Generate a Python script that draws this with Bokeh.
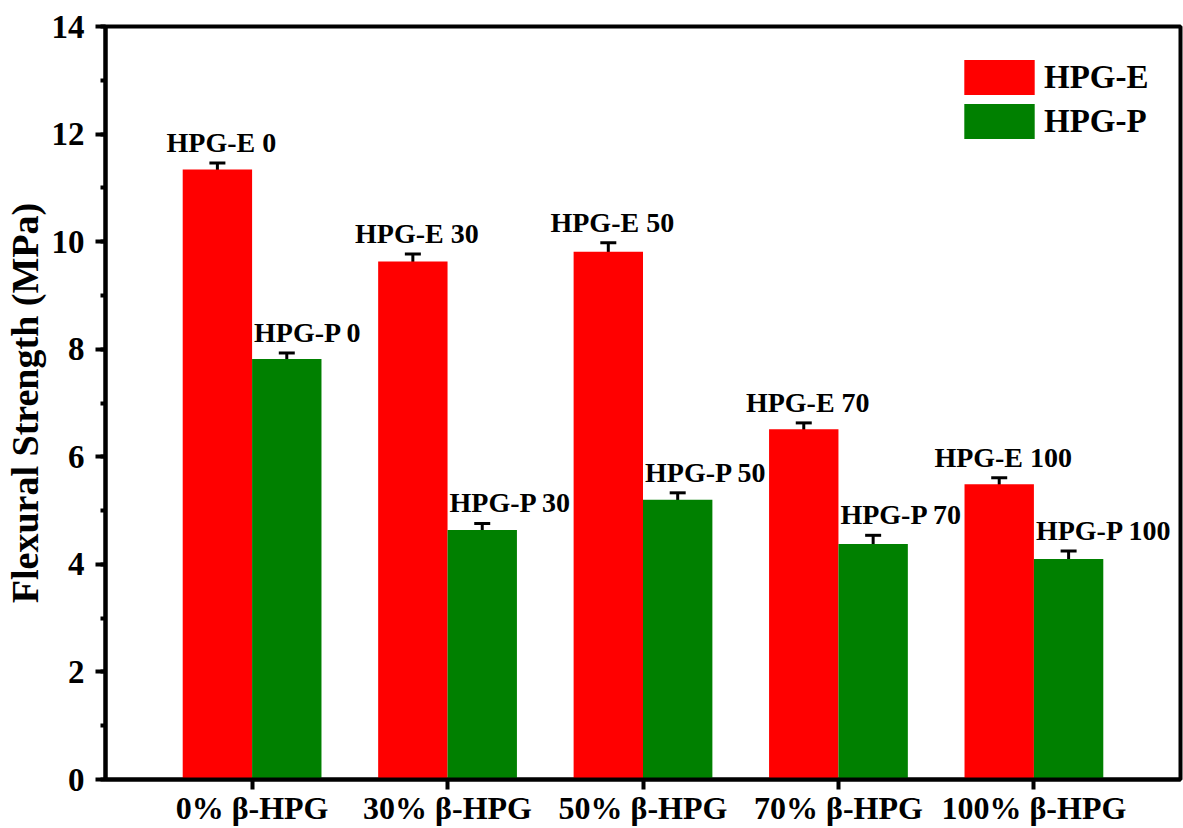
from bokeh.plotting import figure
from bokeh.models import (ColumnDataSource, Range1d, FixedTicker, SingleIntervalTicker,
                          Whisker, TeeHead, Legend, LegendItem, LabelSet)
from bokeh.embed import file_html
from bokeh.resources import INLINE

# Flexural strength of the specimens, per beta-HPG content
categories = ["0% β-HPG", "30% β-HPG", "50% β-HPG", "70% β-HPG", "100% β-HPG"]
hpg_e = [11.34, 9.63, 9.81, 6.51, 5.49]
hpg_e_err = [0.12, 0.14, 0.17, 0.12, 0.12]
hpg_p = [7.82, 4.64, 5.20, 4.38, 4.10]
hpg_p_err = [0.11, 0.12, 0.13, 0.16, 0.15]
hpg_e_labels = ["HPG-E 0", "HPG-E 30", "HPG-E 50", "HPG-E 70", "HPG-E 100"]
hpg_p_labels = ["HPG-P 0", "HPG-P 30", "HPG-P 50", "HPG-P 70", "HPG-P 100"]

FONT = "Liberation Serif"
BAR_W = 0.355

pos = list(range(1, len(categories) + 1))

src_e = ColumnDataSource(dict(
    x=[p - BAR_W / 2 for p in pos], top=hpg_e,
    upper=[v + e for v, e in zip(hpg_e, hpg_e_err)],
    lower=[v - e for v, e in zip(hpg_e, hpg_e_err)],
    label=hpg_e_labels,
))
src_p = ColumnDataSource(dict(
    x=[p + BAR_W / 2 for p in pos], xl=pos, top=hpg_p,
    upper=[v + e for v, e in zip(hpg_p, hpg_p_err)],
    lower=[v - e for v, e in zip(hpg_p, hpg_p_err)],
    label=hpg_p_labels,
))

p = figure(width=1183, height=828, x_range=Range1d(0.25, 5.75), y_range=Range1d(0, 14),
           output_backend="svg", toolbar_location=None, title=None,
           min_border_left=103, min_border_right=3, min_border_top=26, min_border_bottom=48)

p.xgrid.visible = False
p.ygrid.visible = False
p.outline_line_color = "black"
p.outline_line_width = 4
p.background_fill_color = "white"
p.border_fill_color = "white"

r_e = p.vbar(x="x", top="top", width=BAR_W, bottom=0, source=src_e,
             fill_color="#FF0000", line_color=None)
r_p = p.vbar(x="x", top="top", width=BAR_W, bottom=0, source=src_p,
             fill_color="#008000", line_color=None)

for src in (src_e, src_p):
    w = Whisker(base="x", upper="upper", lower="lower", source=src, dimension="height",
                line_color="black", line_width=3,
                upper_head=TeeHead(size=16, line_color="black", line_width=3),
                lower_head=TeeHead(size=16, line_color="black", line_width=3))
    p.add_layout(w)

# Bar name labels above the error bars
p.add_layout(LabelSet(x="x", y="upper", text="label", source=src_e, text_align="center",
                      text_baseline="alphabetic", y_offset=11, x_offset=4,
                      text_font=FONT, text_font_style="bold", text_font_size="28px",
                      text_color="black"))
p.add_layout(LabelSet(x="xl", y="upper", text="label", source=src_p, text_align="left",
                      text_baseline="alphabetic", y_offset=11, x_offset=2,
                      text_font=FONT, text_font_style="bold", text_font_size="28px",
                      text_color="black"))

# Axes
xa = p.xaxis[0]
xa.ticker = FixedTicker(ticks=pos)
xa.major_label_overrides = {i: c for i, c in zip(pos, categories)}
xa.major_tick_out = 10
xa.major_tick_in = 0
xa.minor_tick_line_color = None
xa.major_tick_line_width = 4
xa.axis_line_width = 4
xa.major_label_standoff = 0
xa.major_label_text_font = FONT
xa.major_label_text_font_style = "bold"
xa.major_label_text_font_size = "32px"
xa.major_label_text_color = "black"

ya = p.yaxis[0]
ya.ticker = SingleIntervalTicker(interval=2, num_minor_ticks=2)
ya.major_tick_out = 10
ya.major_tick_in = 0
ya.minor_tick_out = 5
ya.minor_tick_in = 0
ya.major_tick_line_width = 4
ya.minor_tick_line_width = 4
ya.axis_line_width = 4
ya.major_label_standoff = 11
ya.major_label_text_font = FONT
ya.major_label_text_font_style = "bold"
ya.major_label_text_font_size = "33px"
ya.major_label_text_color = "black"
ya.axis_label = "Flexural Strength (MPa)"
ya.axis_label_standoff = 3
ya.axis_label_text_font = FONT
ya.axis_label_text_font_style = "bold"
ya.axis_label_text_font_size = "38px"
ya.axis_label_text_color = "black"

legend = Legend(items=[LegendItem(label="HPG-E", renderers=[r_e]),
                       LegendItem(label="HPG-P", renderers=[r_p])],
                location=(850, 636), orientation="vertical",
                glyph_width=88, glyph_height=44, spacing=0, padding=0, margin=0,
                label_standoff=1, border_line_color=None, background_fill_alpha=0,
                label_text_font=FONT, label_text_font_style="bold",
                label_text_font_size="33px", label_text_color="black")
p.add_layout(legend)

open("out.html", "w").write(file_html(p, INLINE))
